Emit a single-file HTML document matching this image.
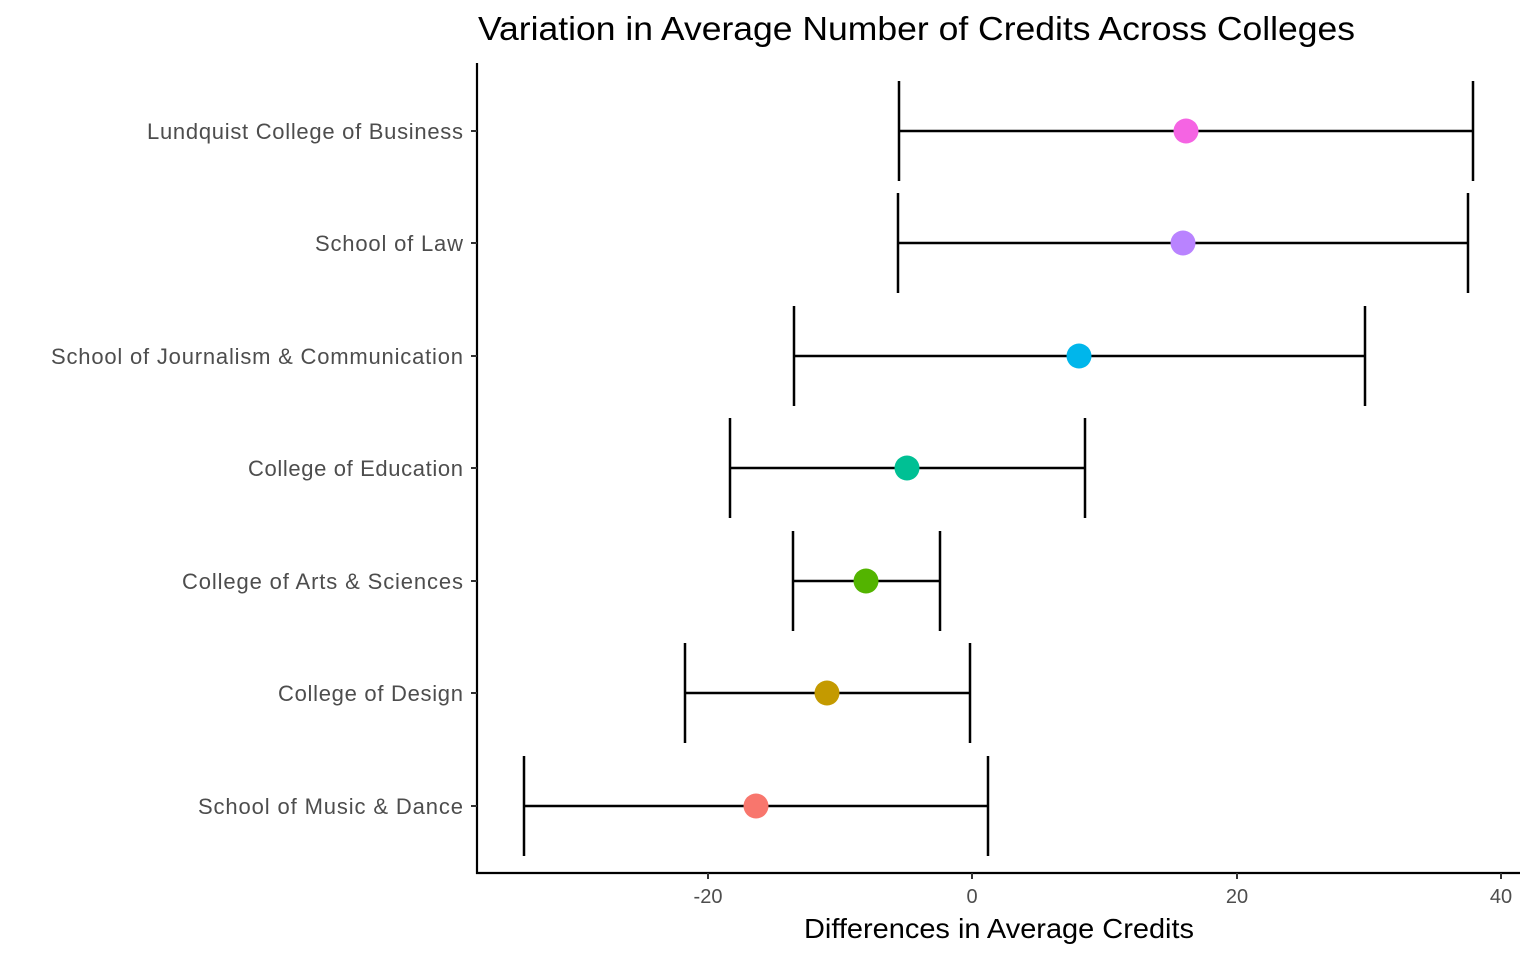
<!DOCTYPE html>
<html><head><meta charset="utf-8"><style>body{margin:0;background:#fff}</style></head><body>
<svg width="1536" height="960" xmlns="http://www.w3.org/2000/svg" font-family="Liberation Sans, sans-serif">
<rect width="1536" height="960" fill="#fff"/>
<text x="478" y="40" font-size="33" fill="#000" textLength="877" lengthAdjust="spacingAndGlyphs">Variation in Average Number of Credits Across Colleges</text>
<g stroke="#000" stroke-width="2.2" fill="none">
<line x1="477" y1="63" x2="477" y2="874"/>
<line x1="476" y1="873" x2="1520" y2="873"/>
</g>
<g stroke="#333" stroke-width="2">
<line x1="471" y1="131" x2="477" y2="131"/><line x1="471" y1="243" x2="477" y2="243"/>
<line x1="471" y1="356" x2="477" y2="356"/><line x1="471" y1="468" x2="477" y2="468"/>
<line x1="471" y1="581" x2="477" y2="581"/><line x1="471" y1="693" x2="477" y2="693"/>
<line x1="471" y1="806" x2="477" y2="806"/>
<line x1="708" y1="873" x2="708" y2="879"/><line x1="972" y1="873" x2="972" y2="879"/>
<line x1="1237" y1="873" x2="1237" y2="879"/><line x1="1501" y1="873" x2="1501" y2="879"/>
</g>
<g font-size="22" fill="#4d4d4d" lengthAdjust="spacingAndGlyphs">
<text x="147" y="139" textLength="316">Lundquist College of Business</text>
<text x="315" y="251" textLength="148">School of Law</text>
<text x="51" y="364" textLength="412">School of Journalism &amp; Communication</text>
<text x="248" y="476" textLength="215">College of Education</text>
<text x="182" y="589" textLength="281">College of Arts &amp; Sciences</text>
<text x="278" y="701" textLength="185">College of Design</text>
<text x="198" y="814" textLength="265">School of Music &amp; Dance</text>
</g>
<g font-size="20" fill="#4d4d4d" text-anchor="middle">
<text x="708" y="903">-20</text><text x="972" y="903">0</text>
<text x="1237" y="903">20</text><text x="1501" y="903">40</text>
</g>
<text x="804" y="938" font-size="28" fill="#000" textLength="390" lengthAdjust="spacingAndGlyphs">Differences in Average Credits</text>
<g stroke="#000" stroke-width="2.5">
<line x1="899" y1="131" x2="1473" y2="131"/><line x1="899" y1="81" x2="899" y2="181"/><line x1="1473" y1="81" x2="1473" y2="181"/>
<line x1="898" y1="243" x2="1468" y2="243"/><line x1="898" y1="193" x2="898" y2="293"/><line x1="1468" y1="193" x2="1468" y2="293"/>
<line x1="794" y1="356" x2="1365" y2="356"/><line x1="794" y1="306" x2="794" y2="406"/><line x1="1365" y1="306" x2="1365" y2="406"/>
<line x1="730" y1="468" x2="1085" y2="468"/><line x1="730" y1="418" x2="730" y2="518"/><line x1="1085" y1="418" x2="1085" y2="518"/>
<line x1="793" y1="581" x2="940" y2="581"/><line x1="793" y1="531" x2="793" y2="631"/><line x1="940" y1="531" x2="940" y2="631"/>
<line x1="685" y1="693" x2="970" y2="693"/><line x1="685" y1="643" x2="685" y2="743"/><line x1="970" y1="643" x2="970" y2="743"/>
<line x1="524" y1="806" x2="988" y2="806"/><line x1="524" y1="756" x2="524" y2="856"/><line x1="988" y1="756" x2="988" y2="856"/>
</g>
<circle cx="1186" cy="131" r="12.5" fill="#F564E3"/>
<circle cx="1183" cy="243" r="12.5" fill="#B983FF"/>
<circle cx="1079" cy="356" r="12.5" fill="#00B6EB"/>
<circle cx="907" cy="468" r="12.5" fill="#00C094"/>
<circle cx="866" cy="581" r="12.5" fill="#53B400"/>
<circle cx="827" cy="693" r="12.5" fill="#C49A00"/>
<circle cx="756" cy="806" r="12.5" fill="#F8766D"/>
</svg>
</body></html>
